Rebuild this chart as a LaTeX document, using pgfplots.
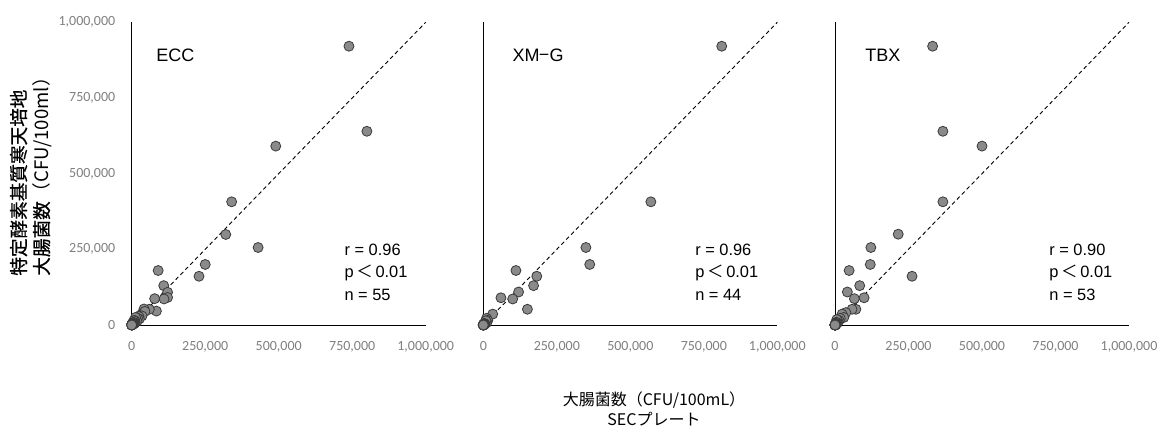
\documentclass[border=0pt]{standalone}
\usepackage{pgfplots}
\pgfplotsset{compat=1.18}
\usepackage{fontspec}
\setmainfont{Noto Sans CJK JP}
\newfontfamily\jpmed{Noto Sans CJK JP}[FakeBold=0.7]
\newfontfamily\tickfont{Carlito}
\newfontfamily\latin{Liberation Sans}
\definecolor{tickgray}{HTML}{7F7F7F}
\definecolor{markfill}{HTML}{8A8A8A}
\definecolor{markdraw}{HTML}{3A3A3A}

\pgfplotstableread{
x y
739000 921000
800000 640000
490000 591000
340000 407000
320000 299000
430000 256000
250000 200000
229000 161000
90000 180000
109000 130000
122000 108000
122000 91000
110000 86000
78000 87000
84000 46000
60000 52000
42000 53000
37000 39000
30000 33000
45000 45000
35000 30000
25000 28000
26000 20000
20000 22000
15000 18000
18000 12000
13000 25000
12000 10000
10000 15000
9000 11000
11000 6000
8000 5000
7000 14000
6000 9000
5000 3000
4000 7000
3500 5000
3000 2000
2500 1200
2000 4000
1500 1000
1200 200
1000 1500
800 600
700 0
600 1800
500 300
400 900
300 500
200 100
150 400
100 200
50 50
0 700
0 0
}\dataECC

\pgfplotstableread{
x y
811000 921000
570000 407000
349000 256000
362000 200000
111000 180000
182000 161000
171000 130000
120000 109000
60000 90000
100000 86000
150000 52000
32000 36000
11000 22000
15000 15000
8000 10000
5000 6000
12000 8000
9000 14000
6000 3000
4000 5000
3000 2000
2500 4000
2000 1000
1800 2500
1500 500
1200 1800
1000 1000
900 300
800 1200
700 700
600 200
500 900
400 400
350 100
300 600
250 250
200 50
150 300
100 100
80 400
50 50
30 200
10 10
0 0
}\dataXMG

\pgfplotstableread{
x y
332000 921000
367000 640000
500000 591000
367000 407000
215000 300000
122000 256000
120000 200000
262000 161000
48000 180000
84000 130000
42000 109000
66000 87000
99000 90000
71000 52000
58000 52000
37000 41000
24000 36000
30000 25000
18000 22000
14000 15000
10000 12000
6000 18000
8000 6000
5000 9000
4000 4000
3000 6000
2500 2000
2000 3000
1500 1000
1200 2200
1000 500
900 1500
800 800
700 200
600 1100
500 500
450 100
400 700
350 300
300 400
250 150
200 600
180 80
150 250
120 120
100 400
80 50
60 200
40 40
30 100
20 20
10 60
0 0
}\dataTBX

\tikzset{
  lab/.style={anchor=west, font=\fontsize{9}{10}\selectfont\latin},
  stat/.style={anchor=west, align=left, font=\fontsize{8.2}{11.25}\selectfont\latin},
}

\pgfplotsset{
  panel/.style={
    anchor=south west, scale only axis,
    width=147pt, height=151.35pt,
    xmin=0, xmax=1000000, ymin=0, ymax=1000000,
    axis x line=bottom, axis y line=left,
    axis line style={-, black, line width=0.5pt},
    xtick={0,250000,500000,750000,1000000},
    ytick={0,250000,500000,750000,1000000},
    major tick length=0pt, scaled ticks=false,
    tick label style={font=\fontsize{7}{8}\selectfont\tickfont, text=tickgray},
    xticklabel style={yshift=-4.5pt},
    yticklabel style={xshift=-4.7pt},
    /pgf/number format/.cd, fixed, 1000 sep={,}, assume math mode=true,
    /pgfplots/.cd,
    clip=false,
  },
  dots/.style={only marks, mark=*, mark size=2.5pt,
    mark options={fill=markfill, draw=markdraw, line width=0.4pt}},
  diag/.style={black, line width=0.45pt, dash pattern=on 2pt off 1.5pt},
}

\begin{document}
\begin{tikzpicture}
\useasboundingbox (0,0) rectangle (580.5pt,214.5pt);

\begin{axis}[panel, at={(65.85pt,52pt)}]
\addplot[diag] coordinates {(0,0) (1000000,1000000)};
\addplot[dots] table[x=x,y=y] {\dataECC};
\node[lab] at (axis cs:60000,891000) {ECC};
\node[stat] at (axis cs:700000,175000) {r = 0.96\\p\,{\normalfont＜}\,0.01\\n = 55};
\end{axis}

\begin{axis}[panel, at={(241.65pt,52pt)}, yticklabels={}]
\addplot[diag] coordinates {(0,0) (1000000,1000000)};
\addplot[dots] table[x=x,y=y] {\dataXMG};
\node[lab] at (axis cs:76000,891000) {XM{\normalfont−}G};
\node[stat] at (axis cs:697000,175000) {r = 0.96\\p\,{\normalfont＜}\,0.01\\n = 44};
\end{axis}

\begin{axis}[panel, at={(417.5pt,52pt)}, yticklabels={}]
\addplot[diag] coordinates {(0,0) (1000000,1000000)};
\addplot[dots] table[x=x,y=y] {\dataTBX};
\node[lab] at (axis cs:79000,891000) {TBX};
\node[stat] at (axis cs:705000,175000) {r = 0.90\\p\,{\normalfont＜}\,0.01\\n = 53};
\end{axis}

\node[rotate=90, align=left, font=\fontsize{9.3}{11.5}\selectfont\jpmed] at (15.5pt,128.5pt)
  {特定酵素基質寒天培地\\大腸菌数{\normalfont（CFU/100ml）}};
\node[align=center, font=\fontsize{8}{10}\selectfont] at (327pt,10pt)
  {大腸菌数（CFU/100mL）\\SECプレート};
\end{tikzpicture}
\end{document}
